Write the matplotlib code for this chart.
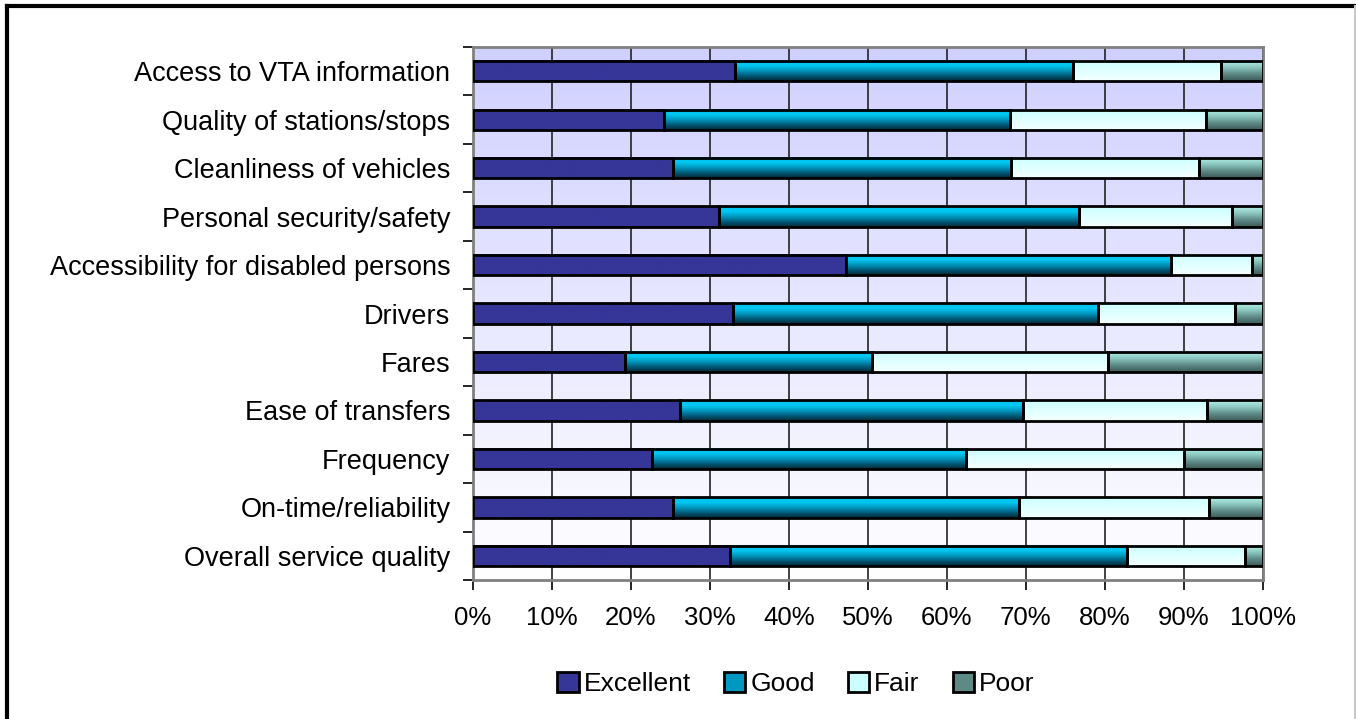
import matplotlib
matplotlib.use('Agg')
import matplotlib.pyplot as plt
import numpy as np
from matplotlib.colors import LinearSegmentedColormap
from matplotlib.patches import Rectangle

plt.rcParams['font.family'] = ['Liberation Sans', 'DejaVu Sans']

categories = ['Access to VTA information', 'Quality of stations/stops',
              'Cleanliness of vehicles', 'Personal security/safety',
              'Accessibility for disabled persons', 'Drivers', 'Fares',
              'Ease of transfers', 'Frequency', 'On-time/reliability',
              'Overall service quality']
excellent = [33.2, 24.2, 25.4, 31.2, 47.3, 32.9, 19.3, 26.3, 22.7, 25.3, 32.6]
good = [42.8, 43.8, 42.7, 45.5, 41.1, 46.2, 31.2, 43.4, 39.8, 43.9, 50.2]
fair = [18.7, 24.8, 23.8, 19.4, 10.3, 17.4, 29.9, 23.2, 27.5, 24.0, 14.9]
poor = [5.3, 7.2, 8.1, 3.9, 1.3, 3.5, 19.6, 7.1, 10.0, 6.8, 2.3]
series = ['Excellent', 'Good', 'Fair', 'Poor']
xticks = [0, 10, 20, 30, 40, 50, 60, 70, 80, 90, 100]

# top -> bottom gradient for each series
fills = {
    'Excellent': ['#363699', '#363699'],
    'Good': ['#00c4ee', '#00c8f2', '#0098c0', '#005a78', '#002a38'],
    'Fair': ['#ccffff', '#f4ffff'],
    'Poor': ['#b4f2ea', '#8cc8c0', '#5e8a86', '#3c5a58'],
}
cmaps = {k: LinearSegmentedColormap.from_list(k, v) for k, v in fills.items()}

fig = plt.figure(figsize=(13.56, 7.19), dpi=100)
ax = fig.add_axes([0.3486, 0.1933, 0.5826, 0.7413])

# plot area background: lavender fading to white
bg = np.linspace(0, 1, 256).reshape(-1, 1)
bg_cmap = LinearSegmentedColormap.from_list('bg', ['#d0d0ff', '#ffffff'])
ax.imshow(bg, cmap=bg_cmap, aspect='auto', extent=(0, 100, 11, 0),
          origin='upper', zorder=0)

y = np.arange(len(categories)) + 0.5
grad = np.linspace(0, 1, 64).reshape(-1, 1)
left = np.zeros(len(categories))
for name, vals in zip(series, [excellent, good, fair, poor]):
    bars = ax.barh(y, vals, left=left, height=0.42, facecolor='none',
                   edgecolor='black', linewidth=2, zorder=3)
    for b in bars:
        x0, y0 = b.get_x(), b.get_y()
        ax.imshow(grad, cmap=cmaps[name], aspect='auto', origin='upper',
                  extent=(x0, x0 + b.get_width(), y0 + b.get_height(), y0),
                  zorder=2, interpolation='bilinear')
    left = left + np.array(vals)

ax.set_xlim(0, 100)
ax.set_ylim(11, 0)
ax.set_xticks(xticks)
ax.set_xticklabels([f'{t}%' for t in xticks], fontsize=18.5)
ax.set_yticks(np.arange(12))
ax.set_yticklabels([])
ax.set_yticks(y, minor=True)
ax.set_yticklabels(categories, minor=True, fontsize=19.5)
ax.tick_params(axis='y', which='minor', length=0, pad=16)
ax.tick_params(axis='y', which='major', length=7, width=1.2, direction='out')
ax.tick_params(axis='x', length=7, width=1.2, direction='out', pad=12)
ax.grid(axis='x', color='#222222', linewidth=1.2, zorder=1)
ax.set_axisbelow(True)
for s in ax.spines.values():
    s.set_color('#808080')
    s.set_linewidth(2)

# legend swatches
handles = [Rectangle((0, 0), 1, 1, facecolor=fills[n][len(fills[n]) // 2 if n != 'Fair' else 0],
                     edgecolor='black', linewidth=2) for n in series]
fig.legend(handles, series, loc='center', bbox_to_anchor=(0.587, 0.049), ncol=4,
           frameon=False, fontsize=19, handlelength=0.8, handleheight=0.8,
           handletextpad=0.2, columnspacing=1.25)

# outer chart frame
fig.add_artist(plt.Line2D([0.0052, 0.0052], [0, 0.9916], color='black', linewidth=3,
                          transform=fig.transFigure))
fig.add_artist(plt.Line2D([0.0052, 1], [0.9916, 0.9916], color='black', linewidth=3,
                          transform=fig.transFigure))
fig.add_artist(plt.Line2D([0.9993, 0.9993], [0, 0.9916], color='#c8c8c8', linewidth=1.5,
                          transform=fig.transFigure))

fig.savefig('out.png', dpi=100)
